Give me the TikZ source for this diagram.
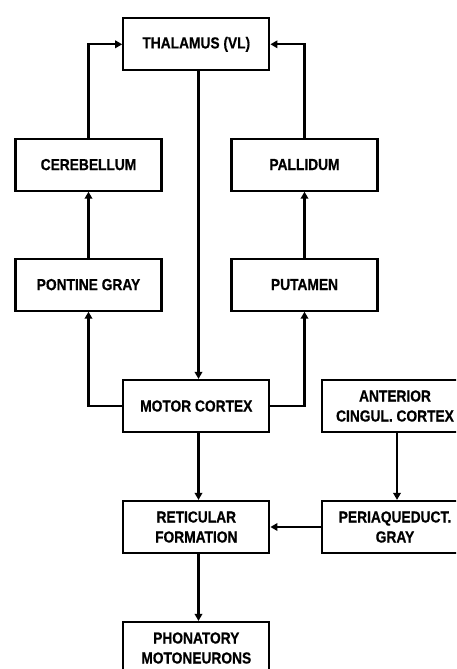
\documentclass[tikz,border=0pt]{standalone}
\usepackage{fontspec}
\setmainfont{Liberation Sans}[FakeStretch=0.86,FakeBold=0.6]
\usetikzlibrary{arrows.meta}
\begin{document}
\begin{tikzpicture}[x=1pt,y=-1pt,
  box/.style={draw=black, line width=2.2pt, minimum width=146pt, minimum height=52pt,
    inner sep=0pt, align=center, font=\bfseries\fontsize{16}{20}\selectfont, fill=white},
  conn/.style={line width=2.2pt, -{Triangle[length=7pt,width=7.5pt]}},
  link/.style={line width=2.2pt}]
\useasboundingbox (0,0) rectangle (456,669);
\clip (0,0) rectangle (456,669);
\node[box] (thal) at (196.3,44.3) {THALAMUS (VL)};
\node[box] (cereb) at (88.5,164.6) {CEREBELLUM};
\node[box] (pall) at (304.5,164.6) {PALLIDUM};
\node[box] (pont) at (88.5,284.6) {PONTINE GRAY};
\node[box] (put) at (304.5,284.6) {PUTAMEN};
\node[box] (motor) at (196.3,406) {MOTOR CORTEX};
\node[box] (ant) at (395,406) {ANTERIOR\\CINGUL. CORTEX};
\node[box] (ret) at (196.3,527) {RETICULAR\\FORMATION};
\node[box] (peri) at (395,527) {PERIAQUEDUCT.\\GRAY};
\node[box] (phon) at (196.3,648) {PHONATORY\\MOTONEURONS};
\draw[conn] (cereb.north) |- (thal.west);
\draw[conn] (pall.north) |- (thal.east);
\draw[conn] (pont.north) -- (cereb.south);
\draw[conn] (put.north) -- (pall.south);
\draw[conn] (motor.west) -| (pont.south);
\draw[conn] (motor.east) -| (put.south);
\draw[conn] ([xshift=2.2pt]thal.south) -- ([xshift=2.2pt]motor.north);
\draw[conn] ([xshift=2.2pt]motor.south) -- ([xshift=2.2pt]ret.north);
\draw[conn] ([xshift=2.2pt]ret.south) -- ([xshift=2.2pt]phon.north);
\draw[conn] ([xshift=2pt]ant.south) -- ([xshift=2pt]peri.north);
\draw[conn] (peri.west) -- (ret.east);
\end{tikzpicture}
\end{document}
